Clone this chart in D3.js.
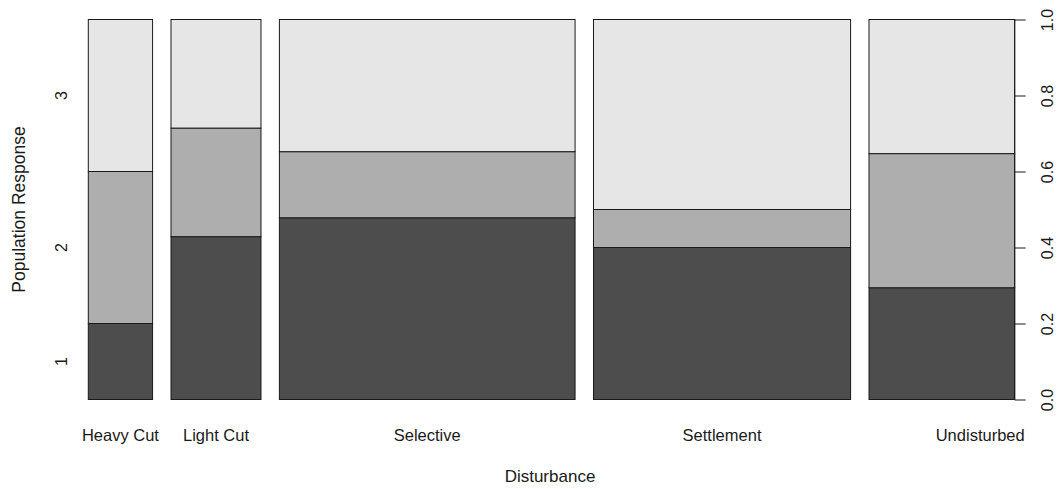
<!DOCTYPE html>
<html>
<head>
<meta charset="utf-8">
<script src="https://cdn.jsdelivr.net/npm/d3@7"></script>
<style>
  html, body { margin: 0; padding: 0; background: #fff; }
  svg { display: block; }
  text { font-family: "Liberation Sans", Arial, sans-serif; fill: #1a1a1a; }
</style>
</head>
<body>
<svg id="chart" width="1061" height="489"></svg>
<script>
// Disturbance classes (x) and counts of each population response level (y)
const categories = ["Heavy Cut", "Light Cut", "Selective", "Settlement", "Undisturbed"];
const levels = ["1", "2", "3"];
const level1 = [3, 9, 33, 24, 10];
const level2 = [6, 6, 12, 6, 12];
const level3 = [6, 6, 24, 30, 12];
const yTicks = [0, 0.2, 0.4, 0.6, 0.8, 1.0];

const fills = ["#4D4D4D", "#AEAEAE", "#E6E6E6"];
const gap = 0.0216;            // spacing between spines, as a share of the total

const svg = d3.select("#chart");
const plotL = 88.3, plotR = 1014.7, plotT = 19.5, plotB = 399.5;

const counts = categories.map((c, i) => [level1[i], level2[i], level3[i]]);
const totals = counts.map(r => d3.sum(r));
const grand = d3.sum(totals);

// x positions of each spine on a 0..(1 + gaps) scale
const x = d3.scaleLinear().domain([0, 1 + gap * (categories.length - 1)]).range([plotL, plotR]);
const y = d3.scaleLinear().domain([0, 1]).range([plotB, plotT]);

let acc = 0;
const spines = categories.map((c, i) => {
  const w = totals[i] / grand;
  const s = { name: c, x0: acc, x1: acc + w, segs: [] };
  let cum = 0;
  counts[i].forEach((v, j) => {
    const p = v / totals[i];
    s.segs.push({ level: j, y0: cum, y1: cum + p });
    cum += p;
  });
  acc += w + gap;
  return s;
});

const g = svg.append("g");
spines.forEach(s => {
  g.selectAll(null).data(s.segs).enter().append("rect")
    .attr("x", x(s.x0))
    .attr("width", x(s.x1) - x(s.x0))
    .attr("y", d => y(d.y1))
    .attr("height", d => y(d.y0) - y(d.y1))
    .attr("fill", d => fills[d.level])
    .attr("stroke", "#1a1a1a")
    .attr("stroke-width", 1);
});

// category labels under each spine
svg.selectAll(".cat").data(spines).enter().append("text")
  .attr("class", "cat")
  .attr("x", (d, i) => i === spines.length - 1 ? plotR + 10 : (x(d.x0) + x(d.x1)) / 2)
  .attr("y", 441)
  .attr("text-anchor", (d, i) => i === spines.length - 1 ? "end" : "middle")
  .attr("font-size", 16.5)
  .text(d => d.name);

// response level labels beside the first spine
const first = spines[0];
svg.selectAll(".lvl").data(first.segs).enter().append("text")
  .attr("class", "lvl")
  .attr("transform", d => `translate(67,${y((d.y0 + d.y1) / 2)}) rotate(-90)`)
  .attr("text-anchor", "middle")
  .attr("font-size", 16)
  .text(d => levels[d.level]);

// right-hand proportion axis
const axis = d3.axisRight(y).tickValues(yTicks).tickSize(11).tickFormat(d3.format(".1f"));
const ax = svg.append("g").attr("transform", `translate(${plotR},0)`).call(axis);
ax.select(".domain").attr("stroke", "#1a1a1a").attr("d", `M0,${plotT}V${plotB}`);
ax.selectAll(".tick line").attr("stroke", "#1a1a1a");
ax.selectAll(".tick text")
  .attr("x", null).attr("dy", null)
  .attr("transform", "translate(38,0) rotate(-90)")
  .attr("text-anchor", "middle")
  .attr("font-size", 16)
  .attr("font-family", "Liberation Sans, Arial, sans-serif")
  .attr("fill", "#1a1a1a");

// axis titles
svg.append("text")
  .attr("x", 550)
  .attr("y", 482)
  .attr("text-anchor", "middle")
  .attr("font-size", 17)
  .text("Disturbance");

svg.append("text")
  .attr("transform", `translate(25,${(plotT + plotB) / 2}) rotate(-90)`)
  .attr("text-anchor", "middle")
  .attr("font-size", 17.5)
  .text("Population Response");
</script>
</body>
</html>
